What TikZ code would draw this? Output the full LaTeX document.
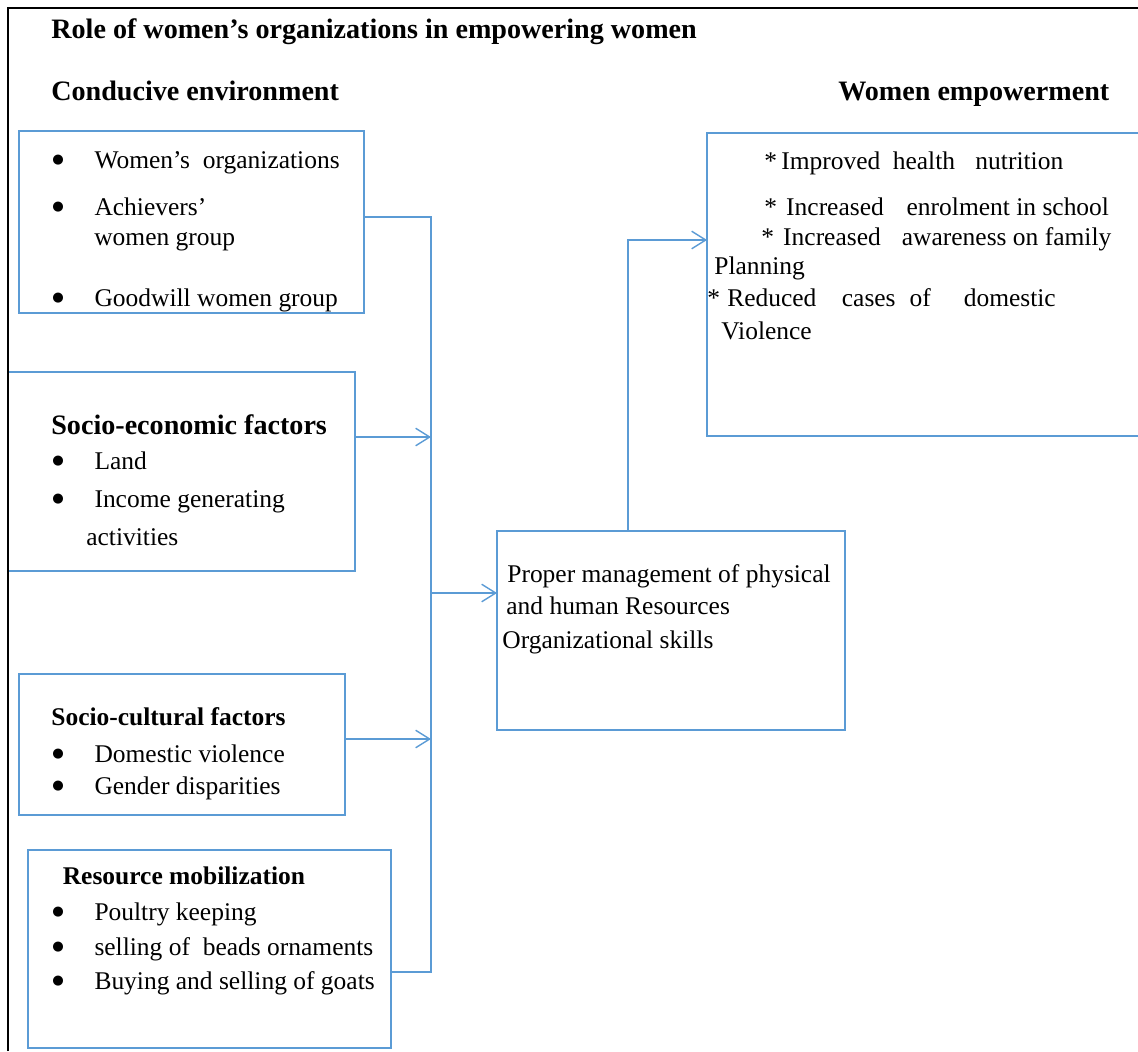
\documentclass[tikz,border=0pt]{standalone}
\usepackage{fontspec}
\setmainfont{Liberation Serif}
\newfontfamily\dejavu{DejaVu Sans}
\usetikzlibrary{arrows.meta}
\definecolor{boxblue}{HTML}{5B9BD5}
\newcommand{\bul}{\makebox[24pt][l]{\raisebox{2.4pt}{\dejavu\fontsize{7.5}{8}\selectfont ●}}}

\begin{document}
\begin{tikzpicture}[x=0.02cm, y=-0.02cm]
\tikzset{every node/.style={font=\fontsize{14.5}{17}\selectfont}}
\tikzset{box/.style={draw=boxblue, line width=0.8pt, inner sep=0pt, outer sep=0pt}}
\tikzset{txt/.style={anchor=mid west, inner sep=0pt, yshift=-2.3pt}}
\tikzset{head/.style={txt, font=\fontsize{16}{19}\selectfont\bfseries}}
\tikzset{subhead/.style={txt, font=\fontsize{14.5}{17}\selectfont\bfseries}}
\tikzset{link/.style={draw=boxblue, line width=0.8pt}}
\tikzset{arr/.style={link, -{Straight Barb[length=8pt, width=10pt]}}}

\useasboundingbox (0,0) rectangle (1138,1051);

% Boxes
\node[box, minimum width=6.90cm, minimum height=3.64cm] at (191.5, 222) (B1) {};
\node[box, minimum width=6.94cm, minimum height=3.98cm] at (181.5, 471.5) (B2) {};
\node[box, minimum width=6.52cm, minimum height=2.82cm] at (182, 744.5) (B3) {};
\node[box, minimum width=7.26cm, minimum height=3.96cm] at (209.5, 949) (B4) {};
\node[box, minimum width=6.96cm, minimum height=3.98cm] at (671, 630.5) (B5) {};
\node[box, minimum width=8.66cm, minimum height=6.06cm] at (923.5, 284.5) (B6) {};

% Frame
\draw[line width=1.5pt] (8,1051) -- (8,8) -- (1138,8);

% Headings
\node[head] at (51, 30) (Title) {Role of women's organizations in empowering women};
\node[head] at (51, 92.5) (Conducive) {Conducive environment};
\node[head] at (838, 92.5) (Empower) {Women empowerment};

% Nodes for conducive environment
\node[txt] at (52, 160) (WO) {\bul Women's~~organizations};
\node[txt] at (52, 207) (AWa) {\bul Achievers'};
\node[txt] at (94, 237) (AWb) {women group};
\node[txt] at (52, 298) (GW) {\bul Goodwill women group};

% Nodes for socio-economic factors
\node[head] at (51, 426.5) (SEF) {Socio-economic factors};
\node[txt] at (52, 461) (Land) {\bul Land};
\node[txt] at (52, 499) (IGa) {\bul Income generating};
\node[txt] at (86, 537) (IGb) {activities};

% Nodes for socio-cultural factors
\node[subhead] at (51, 717) (SCF) {Socio-cultural factors};
\node[txt] at (52, 754) (DV) {\bul Domestic violence};
\node[txt] at (52, 786) (GD) {\bul Gender disparities};

% Nodes for resource mobilization
\node[subhead] at (62.5, 876) (RM) {Resource mobilization};
\node[txt] at (52, 912) (PK) {\bul Poultry keeping};
\node[txt] at (52, 947) (SB) {\bul selling of~~beads ornaments};
\node[txt] at (52, 981) (BS) {\bul Buying and selling of goats};

% Nodes for management
\node[txt] at (507, 574) (PMa) {Proper management of physical};
\node[txt] at (506, 606) (PMb) {and human Resources};
\node[txt] at (502, 640) (OS) {Organizational skills};

% Nodes for empowerment
\node[txt] at (764, 161) (IH) {*\hspace{2.4pt}Improved\hspace{7.1pt}health\hspace{11.6pt}nutrition};
\node[txt] at (764, 207) (IE) {*\hspace{5.2pt}Increased\hspace{13pt}enrolment in school};
\node[txt] at (761, 237) (IA) {*\hspace{5.2pt}Increased\hspace{12pt}awareness on family};
\node[txt] at (714, 266) (PL) {Planning};
\node[txt] at (707, 298) (RC) {*\hspace{4.1pt}Reduced\hspace{14.5pt}cases\hspace{8pt}of\hspace{18.7pt}domestic};
\node[txt] at (721, 331) (VI) {Violence};

% Lines into the trunk
\coordinate (J1) at (431, 217);
\coordinate (J2) at (431, 437);
\coordinate (J3) at (431, 739);
\coordinate (J4) at (431, 972);
\coordinate (J5) at (431, 593);
\coordinate (K1) at (628, 240);

\draw[link] (B1.east |- J1) -- (J1) -- (J4) -- (B4.east |- J4);
\draw[arr] (B2.east |- J2) -- (J2);
\draw[arr] (B3.east |- J3) -- (J3);

% Lines out of the trunk
\draw[arr] (J5) -- (B5.west |- J5);
\draw[arr] (B5.north -| K1) -- (K1) -- (B6.west |- K1);
\end{tikzpicture}
\end{document}
